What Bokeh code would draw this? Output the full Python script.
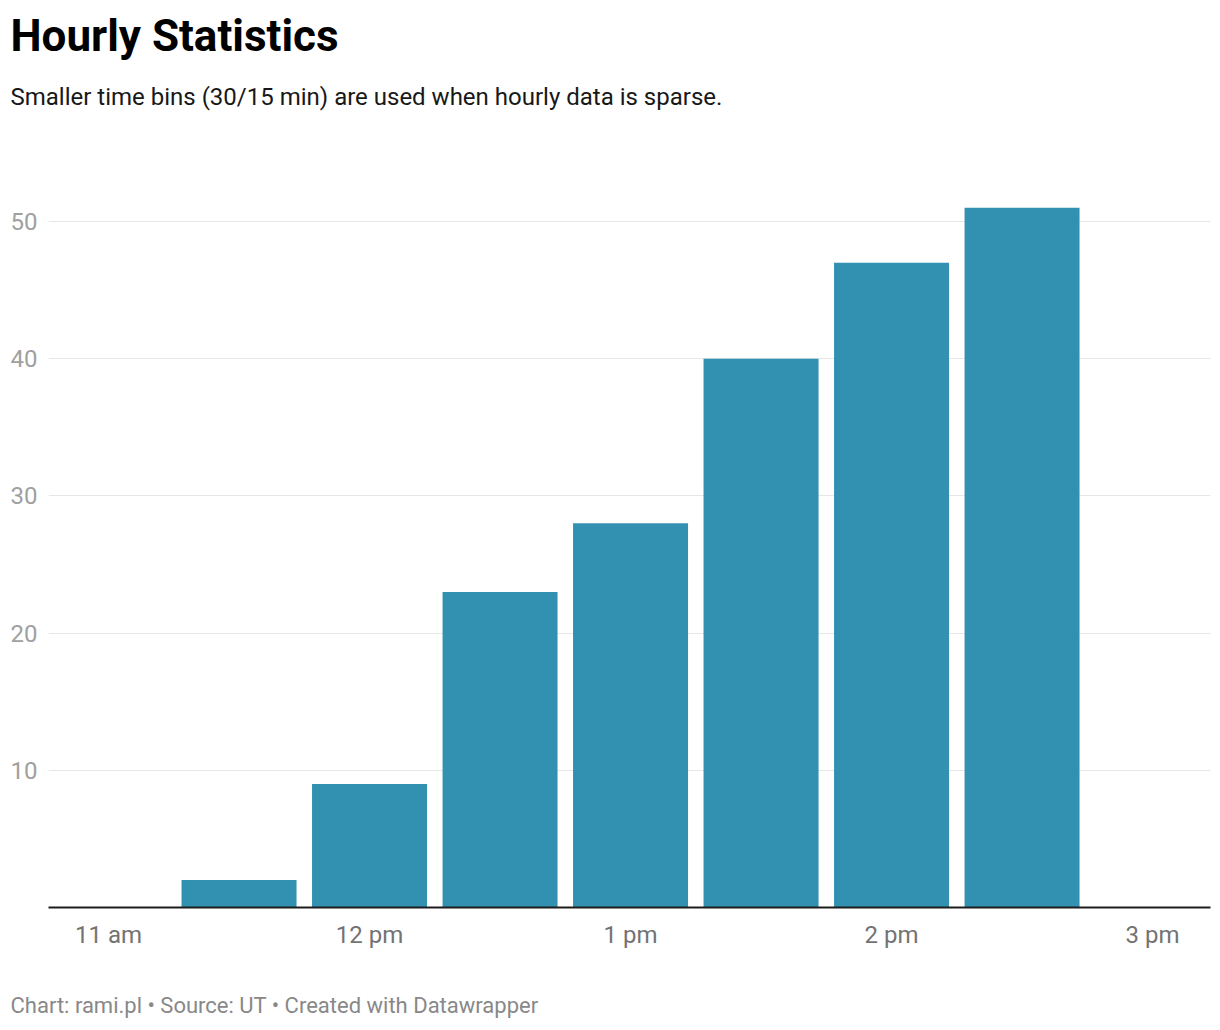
from bokeh.plotting import figure
from bokeh.models import Title, FixedTicker, Range1d
from bokeh.embed import file_html
from bokeh.resources import INLINE

# ---- data ----
bin_hours = [11.0, 11.5, 12.0, 12.5, 13.0, 13.5, 14.0, 14.5, 15.0]
counts = [0, 2, 9, 23, 28, 40, 47, 51, 0]
x_tick_hours = [11, 12, 13, 14, 15]
x_tick_labels = ["11 am", "12 pm", "1 pm", "2 pm", "3 pm"]
y_ticks = [10, 20, 30, 40, 50]

title = "Hourly Statistics"
subtitle = "Smaller time bins (30/15 min) are used when hourly data is sparse."
footer = "Chart: rami.pl \u2022 Source: UT \u2022 Created with Datawrapper"

FONT = "Roboto"
BAR = "#3290b1"

p = figure(width=1212, height=1022, output_backend="svg", toolbar_location=None,
           x_range=Range1d(10.770, 15.222), y_range=Range1d(0, 52.99),
           min_border_left=48, min_border_right=2, min_border_top=180,
           min_border_bottom=115)
p.outline_line_color = None
p.background_fill_color = "white"
p.border_fill_color = "white"

p.vbar(x=bin_hours, top=counts, width=0.4406, fill_color=BAR, line_color=None)

# x axis
p.xaxis.ticker = FixedTicker(ticks=x_tick_hours)
p.xaxis.major_label_overrides = {h: l for h, l in zip(x_tick_hours, x_tick_labels)}
p.xaxis.axis_line_color = "#1d1d1d"
p.xaxis.axis_line_width = 2
p.xaxis.major_tick_line_color = None
p.xaxis.minor_tick_line_color = None
p.xaxis.major_tick_out = 0
p.xaxis.major_tick_in = 0
p.xaxis.major_label_standoff = 13
p.xaxis.major_label_text_font = FONT
p.xaxis.major_label_text_font_size = "24px"
p.xaxis.major_label_text_color = "#737373"
# blank axis label used only as vertical spacing before the footer
p.xaxis.axis_label = " "
p.xaxis.axis_label_text_font_size = "1px"
p.xaxis.axis_label_standoff = 34

# y axis
p.yaxis.ticker = FixedTicker(ticks=y_ticks)
p.yaxis.axis_line_color = None
p.yaxis.major_tick_line_color = None
p.yaxis.minor_tick_line_color = None
p.yaxis.major_tick_out = 0
p.yaxis.major_tick_in = 0
p.yaxis.major_label_standoff = 11
p.yaxis.major_label_text_font = FONT
p.yaxis.major_label_text_font_size = "24px"
p.yaxis.major_label_text_color = "#a0a0a0"

p.xgrid.grid_line_color = None
p.ygrid.grid_line_color = "#e6e6e6"
p.ygrid.grid_line_width = 1
p.ygrid.ticker = FixedTicker(ticks=y_ticks)

# "above" panels: first added sits nearest the plot
p.add_layout(Title(text=" ", align="left", standoff=55,
                   text_font=FONT, text_font_size="1px"), "above")
p.add_layout(Title(text=subtitle, align="left", offset=-38, standoff=24,
                   text_font=FONT, text_font_size="24px", text_font_style="normal",
                   text_color="#181818"), "above")
p.add_layout(Title(text=title, align="left", offset=-38, standoff=14,
                   text_font=FONT, text_font_size="44px", text_font_style="bold",
                   text_color="#000000"), "above")
p.add_layout(Title(text=footer, align="left", offset=-38, standoff=2,
                   text_font=FONT, text_font_size="22px", text_font_style="normal",
                   text_color="#888888"), "below")

open("out.html", "w").write(file_html(p, INLINE))
